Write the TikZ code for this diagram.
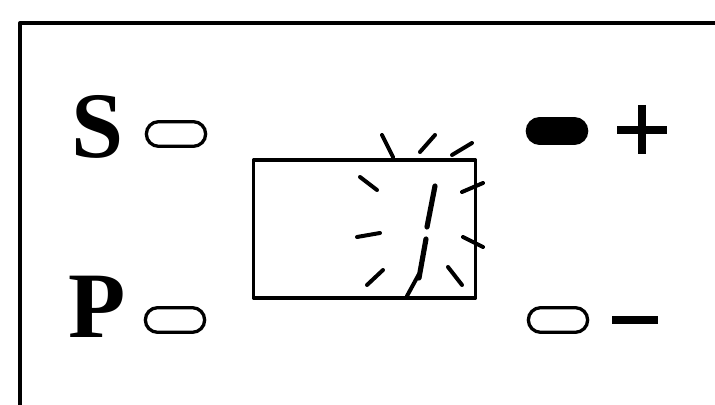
\documentclass[tikz,border=0pt]{standalone}
\usepackage{fontspec}
\setmainfont{Liberation Serif}
\usepackage{tikz}
\usetikzlibrary{positioning,shapes.misc}
\tikzset{
  every picture/.append style={line cap=round,line join=round},
  kp frame/.style={line width=3.4pt},
  kp led/.style={rounded rectangle,draw,line width=2.8pt,minimum width=1.78cm,minimum height=0.74cm,inner sep=0pt},
  kp led on/.style={kp led,fill=black},
  kp label/.style={font=\bfseries\fontsize{80}{80}\selectfont,inner sep=0pt},
  kp sign/.style={line width=7.6pt,line cap=butt},
  kp display/.style={draw,line width=3.2pt,minimum width=6.66cm,minimum height=4.14cm,inner sep=0pt},
  kp spark/.style={line width=3.4pt},
  kp digit/.style={line width=4.4pt}
}
\begin{document}
\begin{tikzpicture}[x=0.03cm,y=-0.03cm]
  \useasboundingbox (0,0) rectangle (715,405);
  % frame
  \draw[kp frame] (20,405) -- (20,23) -- (715,23);
  % left keys
  \node[kp label] (labS) at (98,127) {S};
  \node[kp label] (labP) at (97,307) {P};
  \node[kp led] (ledS) at (176,134) {};
  \node[kp led] (ledP) at (175,320) {};
  % right keys
  \node[kp led on] (ledPlus) at (557,131) {};
  \node[kp led] (ledMinus) at (558,320) {};
  \draw[kp sign] (617,130) -- (667,130);
  \draw[kp sign] (642,105) -- (642,154);
  \draw[kp sign] (612,320) -- (658,320);
  % display with blinking digit
  \node[kp display] (disp) at (364.5,229) {};
  \foreach \xa/\ya/\xb/\yb in {382/135/393/157, 420/152/435/135, 452/155/472/143,
      360/177/377/190, 357/237/380/233, 367/285/383/270,
      462/192/483/183, 463/237/483/247, 448/267/462/285}
    \draw[kp spark] (\xa,\ya) -- (\xb,\yb);
  \draw[kp digit] (435,186) -- (427,227);
  \draw[kp digit] (426,239) -- (419,278);
  \draw[kp spark] (419,274) -- (407,296);
\end{tikzpicture}
\end{document}
